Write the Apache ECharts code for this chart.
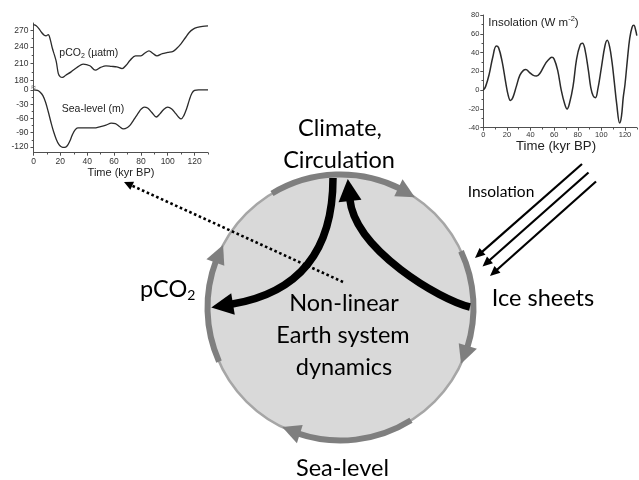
<!DOCTYPE html>
<html><head><meta charset="utf-8">
<script src="https://cdn.jsdelivr.net/npm/echarts@6/dist/echarts.min.js"></script>
<style>html,body{margin:0;padding:0;background:#fff}#c{width:639px;height:480px}</style>
</head><body><div id="c"></div><script>
// ---- data ----
const co2Age = [0, 2, 4, 6, 8, 9.5, 11, 12.5, 14, 15.5, 17, 18.5, 20, 21.5, 24, 28, 33, 37, 42, 46, 50, 54, 58, 62, 66, 69, 72, 76, 80, 83, 86, 89, 92, 96, 100, 104, 107, 110, 113, 116, 119, 122, 126, 130];
const co2Val = [280, 278, 273, 266, 261, 260, 262, 253, 238, 226, 213, 192, 186, 185, 189, 195, 204, 209, 206, 198, 203, 206, 205, 204, 201, 207, 216, 224, 224, 229, 233, 228, 224, 228, 230, 232, 238, 246, 256, 266, 272, 275, 277, 278];
const seaAge = [0, 3, 5, 7, 9, 11, 13, 15, 17, 19, 21, 23, 25, 27, 29, 31, 33, 36, 40, 45, 50, 54, 58, 61, 64, 67, 70, 72, 74, 76, 78, 80, 82.5, 85, 88, 91.5, 94, 97, 100, 103, 106, 108, 110, 112, 114, 116, 118, 120, 123, 130];
const seaVal = [0, -1, -5, -12, -26, -46, -68, -88, -104, -115, -120, -121, -118, -108, -94, -84, -80, -80, -80, -80, -77, -74, -70, -71, -77, -82, -79, -74, -66, -57, -49, -41, -36, -38, -47, -57, -51, -41, -36, -40, -50, -57, -61, -54, -40, -22, -7, -1, 0, 0];
const insAge = [0, 2, 5, 8, 11, 13, 16, 19, 21, 23, 25, 28, 31, 34, 36, 39, 42, 45, 48, 52, 55, 58, 60, 63, 66, 69, 71, 73, 76, 79, 82, 84, 86, 89, 91, 93, 95, 97, 100, 103, 105, 107, 109, 111, 113, 115.5, 117, 118.5, 120, 122, 124, 126, 127.5, 129, 130];
const insVal = [0, 4, 17, 35, 47, 45, 30, 8, -5, -11, -8, 4, 16, 21, 22, 19, 16, 15, 18, 27, 32, 35, 33, 21, 0, -15, -20, -14, 4, 33, 48, 50, 44, 21, 3, -6, -8, 1, 24, 47, 53, 46, 30, 8, -15, -35, -28, -8, 6, 32, 55, 67, 69, 64, 58];
const timeTicks = [0, 20, 40, 60, 80, 100, 120];
const timeMinor = [10, 30, 50, 70, 90, 110, 130];
const co2Ticks = [180, 210, 240, 270];
const co2Minor = [195, 225, 255];
const seaTicks = [-120, -90, -60, -30, 0];
const seaMinor = [-105, -75, -45, -15];
const insTicks = [-40, -20, 0, 20, 40, 60, 80];
const insMinor = [-30, -10, 10, 30, 50, 70];

// ---- chart ----
const chart = echarts.init(document.getElementById('c'), null, {renderer: 'canvas', width: 639, height: 480});
const AXF = '"Liberation Sans", Arial, sans-serif';
const DGF = 'Lato, "Noto Sans", sans-serif';
const axisCol = '#505050', labCol = '#333';

function xMain(grid, size, margin) {
  return {gridIndex: grid, type: 'value', min: 0, max: 130, position: 'bottom',
    axisLine: {show: true, onZero: false, lineStyle: {color: axisCol, width: 1}},
    axisTick: {show: true, customValues: timeTicks, length: 3, lineStyle: {color: axisCol}},
    axisLabel: {show: true, customValues: timeTicks, fontSize: size, color: labCol, margin: margin, fontFamily: AXF},
    splitLine: {show: false}};
}
function xMinor(grid) {
  return {gridIndex: grid, type: 'value', min: 0, max: 130, position: 'bottom',
    axisLine: {show: false, onZero: false},
    axisTick: {show: true, customValues: timeMinor, length: 1.8, lineStyle: {color: axisCol}},
    axisLabel: {show: false}, splitLine: {show: false}};
}
function yMain(grid, min, max, ticks, size, margin) {
  return {gridIndex: grid, type: 'value', min: min, max: max, position: 'left',
    axisLine: {show: true, onZero: false, lineStyle: {color: axisCol, width: 1}},
    axisTick: {show: true, customValues: ticks, length: 3, lineStyle: {color: axisCol}},
    axisLabel: {show: true, customValues: ticks, fontSize: size, color: labCol, margin: margin, fontFamily: AXF},
    splitLine: {show: false}};
}
function yMinor(grid, min, max, ticks) {
  return {gridIndex: grid, type: 'value', min: min, max: max, position: 'left',
    axisLine: {show: false, onZero: false},
    axisTick: {show: true, customValues: ticks, length: 1.8, lineStyle: {color: axisCol}},
    axisLabel: {show: false}, splitLine: {show: false}};
}
const pairs = (a, v) => a.map((x, i) => [x, v[i]]);

// ---- diagram helpers (decoration, not data) ----
const C = {x: 340.5, y: 307.5, r: 133};
const rad = d => d * Math.PI / 180;
const P = (r, d) => [C.x + r * Math.cos(rad(d)), C.y + r * Math.sin(rad(d))];
function grayArc(a0, a1) {
  const L = 19, W = 9.5, dA = L / C.r * 180 / Math.PI, ab = a1 - dA;
  return [
    {type: 'arc', z: 2, shape: {cx: C.x, cy: C.y, r: C.r, startAngle: rad(a0), endAngle: rad(ab + 1), clockwise: true},
      style: {stroke: '#7f7f7f', lineWidth: 6, fill: 'none'}},
    {type: 'polygon', z: 2, shape: {points: [P(C.r, a1), P(C.r + W, ab), P(C.r - W, ab)]}, style: {fill: '#7f7f7f'}}
  ];
}
function head(base, dir, L, W, col, z) {
  const n = Math.hypot(dir[0], dir[1]); const u = [dir[0] / n, dir[1] / n]; const p = [-u[1], u[0]];
  const tip = [base[0] + u[0] * L, base[1] + u[1] * L];
  return {type: 'polygon', z: z, shape: {points: [tip, [base[0] + p[0] * W, base[1] + p[1] * W], [base[0] - p[0] * W, base[1] - p[1] * W]]}, style: {fill: col}};
}
function straightArrow(from, tip, L, W, lw, col, dash, z) {
  const d = [tip[0] - from[0], tip[1] - from[1]]; const n = Math.hypot(d[0], d[1]); const u = [d[0] / n, d[1] / n];
  const base = [tip[0] - u[0] * L, tip[1] - u[1] * L];
  return [
    {type: 'line', z: z, shape: {x1: from[0], y1: from[1], x2: base[0] + u[0], y2: base[1] + u[1]},
      style: {stroke: col, lineWidth: lw, lineDash: dash || null}},
    head(base, u, L, W, col, z)
  ];
}
const cv = document.createElement('canvas').getContext('2d');
function runs(x, y, parts, align) {
  const w = parts.map(p => { cv.font = p[1] + 'px ' + p[3]; return cv.measureText(p[0]).width; });
  const tot = w.reduce((a, b) => a + b, 0);
  let cx = align === 'center' ? x - tot / 2 : x;
  return parts.map((p, i) => {
    const el = {type: 'text', z: 6, style: {text: p[0], x: cx, y: y + p[2], font: p[1] + 'px ' + p[3], fill: p[4] || '#000', textAlign: 'left', textVerticalAlign: 'middle', align: 'left', verticalAlign: 'middle'}};
    cx += w[i]; return el;
  });
}
function txt(t, x, y, size, fam, fill) { return runs(x, y, [[t, size, 0, fam, fill]], 'center'); }

const els = [];
els.push({type: 'circle', z: 1, shape: {cx: C.x, cy: C.y, r: C.r}, style: {fill: '#d9d9d9', stroke: '#a6a6a6', lineWidth: 2.5}});
els.push(...grayArc(-121, -56), ...grayArc(-25, 25), ...grayArc(58, 116), ...grayArc(156, 208));
// black curved arrows
els.push({type: 'bezierCurve', z: 3, shape: {x1: 333, y1: 178, cpx1: 333, cpy1: 250, cpx2: 300, cpy2: 293, x2: 231, y2: 304.3}, style: {stroke: '#000', lineWidth: 7.5, fill: 'none'}});
els.push(head([233, 304], [-67, 11], 22, 11, '#000', 3));
els.push({type: 'bezierCurve', z: 3, shape: {x1: 470, y1: 307, cpx1: 440, cpy1: 300, cpx2: 355, cpy2: 250, x2: 349.8, y2: 199}, style: {stroke: '#000', lineWidth: 7.5, fill: 'none'}});
els.push(head([350, 201], [-5, -49], 22, 11.5, '#000', 3));
// dotted arrow to the CO2 / sea-level panel
els.push(...straightArrow([343, 282], [124, 182], 9, 4.5, 2.6, '#000', [2.6, 2.6], 4));
// insolation arrows
els.push(...straightArrow([582, 164], [475, 258], 10, 4.5, 2.2, '#000', null, 4));
els.push(...straightArrow([588.5, 172.5], [482.5, 266.5], 10, 4.5, 2.2, '#000', null, 4));
els.push(...straightArrow([596, 181.5], [490, 276], 10, 4.5, 2.2, '#000', null, 4));
// diagram text
els.push(...txt('Climate,', 340, 128, 23.5, DGF));
els.push(...txt('Circulation', 339, 160, 23.5, DGF));
els.push(...txt('Non-linear', 344, 303, 23.5, DGF));
els.push(...txt('Earth system', 343, 335, 23.5, DGF));
els.push(...txt('dynamics', 344, 367, 23.5, DGF));
els.push(...txt('Sea-level', 342.5, 468, 23.5, DGF));
els.push(...txt('Ice sheets', 543, 298, 23.5, DGF));
els.push(...txt('Insolation', 501, 191.5, 15.5, DGF));
els.push(...runs(140, 289, [['pCO', 23.5, 0, DGF], ['2', 14, 6, DGF]], 'left'));
// chart text
els.push(...runs(59.3, 53.3, [['pCO', 10.5, 0, AXF, '#222'], ['2', 7, 2.5, AXF, '#222'], [' (\u00b5atm)', 10.5, 0, AXF, '#222']], 'left'));
els.push(...runs(61.7, 109.3, [['Sea-level (m)', 10.5, 0, AXF, '#222']], 'left'));
els.push(...txt('Time (kyr BP)', 121, 173, 11, AXF, '#222'));
els.push(...runs(488.3, 22.7, [['Insolation (W m', 11.5, 0, AXF, '#222'], ['-2', 7.5, -4, AXF, '#222'], [')', 11.5, 0, AXF, '#222']], 'left'));
els.push(...txt('Time (kyr BP)', 556, 146.7, 13.2, AXF, '#222'));
els.push(...txt('\u2248', 33.5, 87.5, 9, AXF, '#555'));

const option = {
  animation: false,
  backgroundColor: '#fff',
  grid: [
    {left: 33.5, top: 23, width: 174.5, height: 65, outerBoundsMode: 'none', containLabel: false},
    {left: 33.5, top: 88, width: 174.5, height: 64.7, outerBoundsMode: 'none', containLabel: false},
    {left: 483.3, top: 15, width: 153.5, height: 112.7, outerBoundsMode: 'none', containLabel: false}
  ],
  xAxis: [
    {gridIndex: 0, type: 'value', min: 0, max: 130, show: false},
    xMain(1, 8.5, 4), xMinor(1),
    xMain(2, 7.5, 3), xMinor(2)
  ],
  yAxis: [
    yMain(0, 166, 283, co2Ticks, 8.5, 5), yMinor(0, 166, 283, co2Minor),
    yMain(1, -132, 4, seaTicks, 8.5, 5), yMinor(1, -132, 4, seaMinor),
    yMain(2, -40, 80, insTicks, 7.5, 4), yMinor(2, -40, 80, insMinor)
  ],
  series: [
    {type: 'line', xAxisIndex: 0, yAxisIndex: 0, data: pairs(co2Age, co2Val), symbol: 'none', smooth: 0.35, lineStyle: {color: '#2b2b2b', width: 1.3}},
    {type: 'line', xAxisIndex: 1, yAxisIndex: 2, data: pairs(seaAge, seaVal), symbol: 'none', smooth: 0.35, lineStyle: {color: '#2b2b2b', width: 1.3}},
    {type: 'line', xAxisIndex: 3, yAxisIndex: 4, data: pairs(insAge, insVal), symbol: 'none', smooth: 0.4, lineStyle: {color: '#2b2b2b', width: 1.5}}
  ],
  graphic: {elements: els}
};
chart.setOption(option);
</script></body></html>
